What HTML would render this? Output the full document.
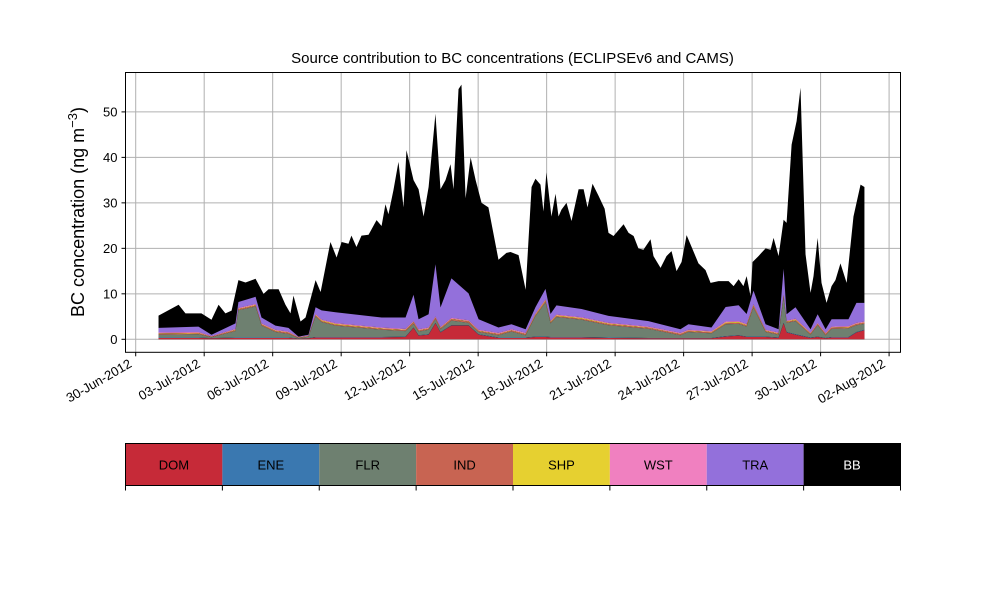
<!DOCTYPE html>
<html><head><meta charset="utf-8"><style>
body{margin:0;background:#fff;}
svg{display:block;font-family:"Liberation Sans","DejaVu Sans",sans-serif;}
</style></head><body>
<svg id="chart" width="1000" height="600" viewBox="0 0 1000 600" xmlns="http://www.w3.org/2000/svg">
<rect width="1000" height="600" fill="#fff"/>
<g id="grid"></g><g id="areas"></g><g id="axes"></g><g id="legend"></g>
</svg>
<script>
// ---- data ----
const tickDays = [0,3,6,9,12,15,18,21,24,27,30,33];
const tickLabels = ["30-Jun-2012","03-Jul-2012","06-Jul-2012","09-Jul-2012","12-Jul-2012","15-Jul-2012","18-Jul-2012","21-Jul-2012","24-Jul-2012","27-Jul-2012","30-Jul-2012","02-Aug-2012"];
const yTicks = [0,10,20,30,40,50];
const sourceNames = ["DOM","ENE","FLR","IND","SHP","WST","TRA","BB"];
const sourceColors = ["#c62a38","#3a78b0","#6e8070","#c86452","#e6d030","#f080c0","#9370db","#000000"];
// total concentration (top of BB layer)
const totalTimes = [1.00,1.88,2.18,2.88,3.32,3.63,3.93,4.20,4.50,4.81,5.25,5.60,5.82,6.26,6.56,6.78,6.91,7.22,7.44,7.88,8.10,8.53,8.80,9.02,9.32,9.45,9.67,9.89,10.20,10.55,10.77,10.94,11.07,11.29,11.51,11.73,11.86,12.17,12.39,12.61,12.83,13.13,13.35,13.57,13.79,13.92,14.14,14.27,14.45,14.67,14.89,15.15,15.45,15.89,16.24,16.42,16.77,17.08,17.34,17.51,17.73,17.86,17.99,18.21,18.39,18.52,18.65,18.87,19.09,19.40,19.62,19.79,20.01,20.27,20.54,20.71,20.93,21.37,21.59,21.81,22.02,22.24,22.55,22.68,22.99,23.25,23.47,23.69,23.91,24.13,24.35,24.65,24.96,25.18,25.53,25.97,26.19,26.41,26.62,26.76,26.93,27.02,27.28,27.59,27.81,27.94,28.16,28.38,28.51,28.73,28.95,29.12,29.34,29.56,29.69,29.87,30.04,30.26,30.48,30.65,30.87,31.14,31.44,31.75,31.92];
const totalConc = [5.2,7.6,5.7,5.7,4.3,7.6,5.7,6.3,13,12.5,13.3,10,11,11,7.6,5.7,9.6,3.9,4.8,13,10.4,21.4,18,21.4,21,22.8,20.3,22.8,23,26.2,24.9,29.7,27.5,32.8,39,29,41.6,35,33,27,33.5,49.6,33,35,38.5,33,55,56,31,40,35,30,29,17.5,19,19.2,18.5,10.9,33.5,35.3,34,28.1,36.7,27,32,27,28.5,30,26,33,33,29,34.2,31.6,28.7,23.4,22.7,25.3,23.4,22.7,20,19.7,22,18.3,15.7,18.3,19.4,15,17,22.9,20.3,16.7,15.2,12.4,12.8,12.8,11.7,13.2,11.7,13.9,9.5,17,18.3,20,19.7,22.3,18.3,26.3,25.6,42.8,48,55.3,18.7,10.2,13.9,22.3,12.4,8,11.7,13,16.7,12.4,27,34,33.5];
// lower source contributions
const lowTimes = [1.00,2.75,3.32,4.37,4.50,5.25,5.51,6.12,6.69,7.13,7.57,7.88,8.14,8.75,10.77,11.82,12.17,12.39,12.83,13.13,13.35,13.83,14.58,15.02,15.89,16.46,17.08,17.51,17.95,18.17,18.43,19.53,20.71,22.46,23.86,24.21,25.22,25.84,26.41,26.76,27.06,27.59,28.16,28.38,28.51,28.90,29.56,29.87,30.22,30.48,31.22,31.57,31.92];
const domVals = [.3,.3,.2,.3,.3,.3,.3,.3,.3,.1,.2,.4,.4,.4,.4,.5,2.5,.8,1,3.5,1.5,3,3,1,.3,.3,.3,.5,.5,.4,.4,.4,.3,.2,.2,.2,.2,.6,.8,.5,.5,.5,.3,3.5,1.5,1,.3,.5,.2,.4,.4,1.5,2];
const eneVals = [.1,.1,.05,.1,.1,.1,.1,.1,.1,.05,.05,.1,.1,.1,.1,.1,.1,.1,.1,.1,.1,.1,.1,.1,.1,.1,.1,.1,.1,.1,.1,.1,.1,.1,.1,.1,.1,.1,.1,.1,.1,.1,.1,.1,.1,.1,.1,.1,.1,.1,.1,.1,.1];
const flrVals = [.6,.7,.2,1.4,6,6.8,2.6,1.2,.8,.1,.3,4.5,3.3,2.5,1.6,1.2,.8,.8,1,.8,.6,1,.5,.5,.5,1.3,.5,4.5,7.5,3,4.4,3.8,2.7,2,.6,1.3,1,2.6,2.5,2.2,6.4,1,.6,5.5,2,2.9,.6,2.5,.6,1.8,1.9,1.5,1.3];
const indVals = [.2,.2,.1,.2,.2,.2,.2,.2,.2,.1,.1,.2,.2,.2,.2,.2,.3,.2,.2,.3,.2,.3,.3,.2,.2,.2,.2,.2,.3,.2,.2,.2,.2,.2,.2,.2,.2,.2,.2,.2,.3,.2,.2,.3,.2,.2,.2,.2,.2,.2,.2,.2,.2];
const shpVals = [.1,.1,.05,.1,.1,.15,.1,.1,.1,.05,.05,.15,.15,.15,.1,.1,.1,.1,.1,.1,.1,.1,.1,.1,.1,.1,.1,.15,.2,.15,.15,.15,.15,.1,.1,.1,.1,.2,.2,.15,.2,.1,.1,.2,.1,.15,.1,.1,.1,.1,.1,.1,.1];
const wstVals = [.2,.2,.1,.2,.2,.2,.2,.2,.2,.1,.1,.2,.2,.2,.2,.2,.2,.2,.2,.2,.2,.2,.2,.2,.2,.2,.2,.2,.2,.2,.2,.2,.2,.2,.2,.2,.2,.2,.2,.2,.2,.2,.2,.2,.2,.2,.2,.2,.2,.2,.2,.2,.2];
const traVals = [1.0,1.2,.3,1.2,1.3,1.6,1.3,.9,.8,.1,.2,1.5,2,2.4,2.2,2.5,5.8,2.2,2.9,11.5,4.3,8.7,5.9,2.3,1.2,1.1,.8,1.4,2.3,1.5,2,1.8,1.5,1.2,.8,1.2,.8,3.2,3.5,2.2,3,1.2,.7,5.7,1.4,2.5,.7,1.9,.8,1.6,1.5,4.4,4.1];

// ---- scales ----
const PL=125.5, PR=900.5, PT=72.5, PB=352.3;
function xS(t){ return 135.7 + t*22.83; }
function yS(v){ return 339.3 - v*4.548; }
const NS="http://www.w3.org/2000/svg";
function mk(tag, attrs, parent){ const e=document.createElementNS(NS,tag); for(const k in attrs) e.setAttribute(k,attrs[k]); parent.appendChild(e); return e; }

const grid=document.getElementById('grid');
tickDays.forEach((d,i)=>{
  const l=mk('line',{x1:xS(d),x2:xS(d),y1:PT,y2:PB,stroke:'#b0b0b0','stroke-width':1},grid);
  
  
});
yTicks.forEach(v=>{
  const l=mk('line',{x1:PL,x2:PR,y1:yS(v),y2:yS(v),stroke:'#b0b0b0','stroke-width':1},grid);
  
  
});

// ---- areas ----
const areas=document.getElementById('areas');
{
  let d='M'+xS(totalTimes[0])+','+yS(0);
  totalTimes.forEach((t,i)=>{ d+=' L'+xS(t).toFixed(2)+','+yS(totalConc[i]).toFixed(2); });
  d+=' L'+xS(totalTimes[totalTimes.length-1])+','+yS(0)+' Z';
  const p=mk('path',{d:d,fill:'#000'},areas);
  
  
}
const layers=[domVals,eneVals,flrVals,indVals,shpVals,wstVals,traVals];
const layerNames=['area-dom','area-ene','area-flr','area-ind','area-shp','area-wst','area-tra'];
let base=lowTimes.map(()=>0);
const paths=[];
layers.forEach((vals,li)=>{
  const top=base.map((b,i)=>b+vals[i]);
  let d='';
  lowTimes.forEach((t,i)=>{ d+=(i?' L':'M')+xS(t).toFixed(2)+','+yS(top[i]).toFixed(2); });
  for(let i=lowTimes.length-1;i>=0;i--) d+=' L'+xS(lowTimes[i]).toFixed(2)+','+yS(base[i]).toFixed(2);
  d+=' Z';
  paths.push({d:d,li:li});
  base=top;
});
for(let k=paths.length-1;k>=0;k--){
  const p=mk('path',{d:paths[k].d,fill:sourceColors[paths[k].li]},areas);
  
  
}

// ---- axes ----
const axes=document.getElementById('axes');
const frame=mk('rect',{x:PL,y:PT,width:PR-PL,height:PB-PT,fill:'none',stroke:'#000','stroke-width':1},axes);


yTicks.forEach(v=>{
  mk('line',{x1:PL-4,x2:PL,y1:yS(v),y2:yS(v),stroke:'#000'},axes);
  const t=mk('text',{x:PL-8,y:yS(v)+4.5,'text-anchor':'end','font-size':13,fill:'#000'},axes);
  t.textContent=v;
  
  
});
tickDays.forEach((d,i)=>{
  const x=xS(d);
  mk('line',{x1:x,x2:x,y1:PB,y2:PB+4,stroke:'#000'},axes);
  const t=mk('text',{x:x-3,y:PB+14,'text-anchor':'end','font-size':13,fill:'#000',transform:'rotate(-30 '+(x-3)+' '+(PB+14)+')'},axes);
  t.textContent=tickLabels[i];
  
  
});
const title=mk('text',{x:512.5,y:63,'text-anchor':'middle','font-size':15,fill:'#000'},axes);
title.textContent='Source contribution to BC concentrations (ECLIPSEv6 and CAMS)';


const yl=mk('text',{x:0,y:0,'text-anchor':'middle','font-size':18,fill:'#000',transform:'translate(84 212) rotate(-90)'},axes);
yl.innerHTML='BC concentration (ng m<tspan dy="-7" font-size="13">−3</tspan><tspan dy="7">)</tspan>';



// ---- legend colorbar ----
const lg=document.getElementById('legend');
const LX=125.5, LW=775, LY=443.5, LH=42;
const bw=LW/sourceNames.length;
sourceNames.forEach((n,i)=>{
  const r=mk('rect',{x:LX+i*bw,y:LY,width:bw,height:LH,fill:sourceColors[i]},lg);
  
  
  const t=mk('text',{x:LX+i*bw+bw/2,y:LY+LH/2+5,'text-anchor':'middle','font-size':13,fill:n==='BB'?'#fff':'#000'},lg);
  t.textContent=n;
  
  
});
for(let i=0;i<=sourceNames.length;i++){
  mk('line',{x1:LX+i*bw,x2:LX+i*bw,y1:LY+LH,y2:LY+LH+5,stroke:'#000'},lg);
}
const lf=mk('rect',{x:LX,y:LY,width:LW,height:LH,fill:'none',stroke:'#000'},lg);


</script>
</body></html>
